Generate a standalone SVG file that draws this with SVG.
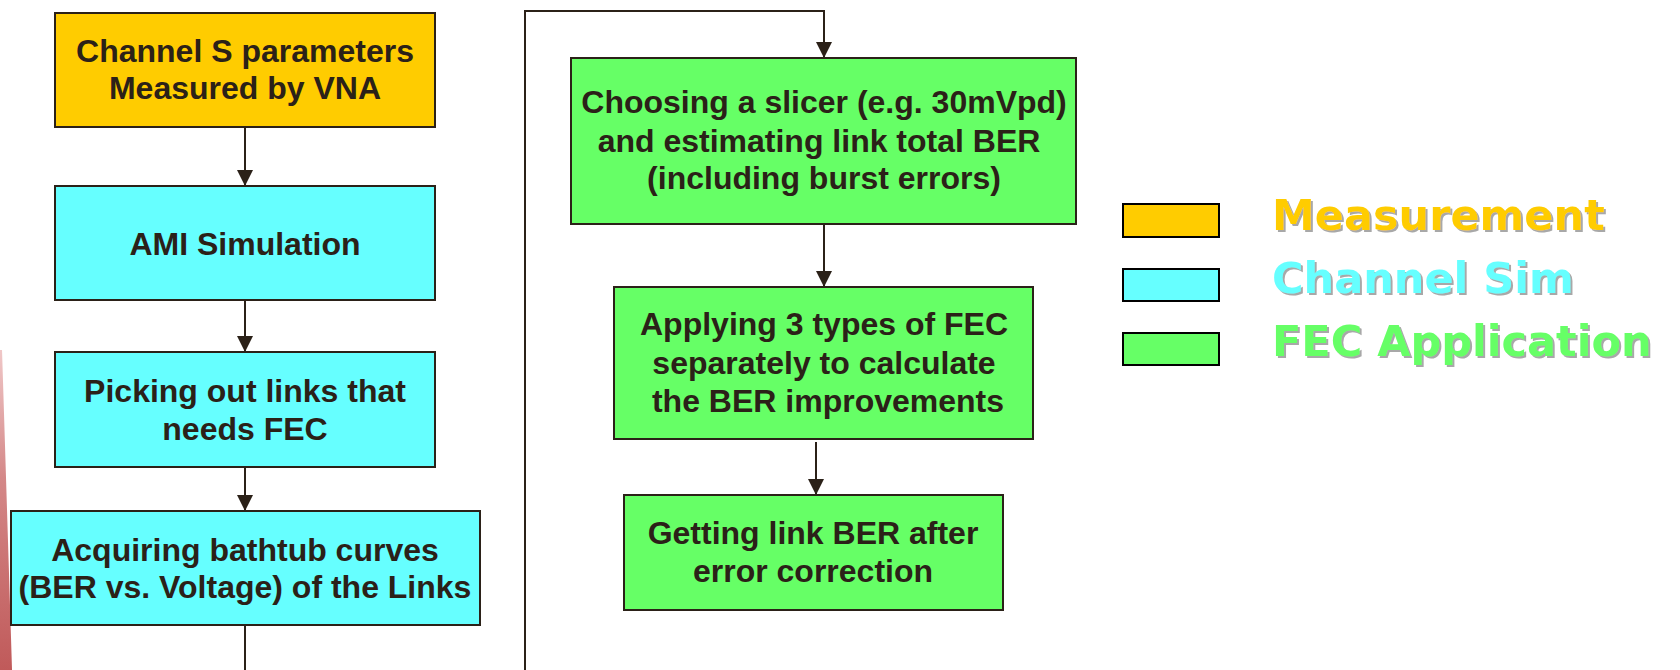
<svg xmlns="http://www.w3.org/2000/svg" width="1680" height="670" viewBox="0 0 1680 670">
  <defs>
    <style>
      .box { stroke: #2b2118; stroke-width: 2; }
      .meas { fill: #ffcc00; }
      .sim { fill: #66ffff; }
      .fec { fill: #66ff66; }
      .lbl { font-family: "Liberation Sans", Arial, sans-serif; font-weight: bold; font-size: 32px; fill: #2b2118; text-anchor: middle; }
      .wire { fill: none; stroke: #2b2118; stroke-width: 2; }
      .key { stroke: #000; stroke-width: 2; }
      .keytext { font-family: "DejaVu Sans", Verdana, sans-serif; font-weight: bold; font-size: 43px; filter: url(#shade); }
    </style>
    <marker id="arrow" viewBox="0 0 16 16" refX="16" refY="8" markerWidth="16" markerHeight="16" markerUnits="userSpaceOnUse" orient="auto">
      <path d="M0,0 L16,8 L0,16 Z" fill="#2b2118"/>
    </marker>
    <filter id="shade" x="-5%" y="-20%" width="115%" height="150%">
      <feDropShadow dx="2" dy="2" stdDeviation="0.4" flood-color="#a8a8a8" flood-opacity="1"/>
    </filter>
    <linearGradient id="edge" x1="0" y1="0" x2="0" y2="1">
      <stop offset="0" stop-color="#f0c8c8"/>
      <stop offset="0.4" stop-color="#d48888"/>
      <stop offset="1" stop-color="#c05a5a"/>
    </linearGradient>
  </defs>

  <!-- decorative edge stripe -->
  <polygon points="0,350 2,350 12,670 0,670" fill="url(#edge)"/>

  <!-- connectors -->
  <g id="connectors">
    <line class="wire" x1="245" y1="127" x2="245" y2="186" marker-end="url(#arrow)"/>
    <line class="wire" x1="245" y1="300" x2="245" y2="352" marker-end="url(#arrow)"/>
    <line class="wire" x1="245" y1="467" x2="245" y2="511" marker-end="url(#arrow)"/>
    <line class="wire" x1="245" y1="625" x2="245" y2="672"/>
    <path class="wire" d="M525,672 L525,11 L824,11 L824,58" marker-end="url(#arrow)"/>
    <line class="wire" x1="824" y1="224" x2="824" y2="287" marker-end="url(#arrow)"/>
    <line class="wire" x1="816" y1="442" x2="816" y2="495" marker-end="url(#arrow)"/>
  </g>

  <!-- flow steps -->
  <g id="step-vna">
    <rect class="box meas" x="55" y="13" width="380" height="114"/>
    <text class="lbl" x="245" y="62">Channel S parameters</text>
    <text class="lbl" x="245" y="99">Measured by VNA</text>
  </g>
  <g id="step-ami">
    <rect class="box sim" x="55" y="186" width="380" height="114"/>
    <text class="lbl" x="245" y="255">AMI Simulation</text>
  </g>
  <g id="step-pick">
    <rect class="box sim" x="55" y="352" width="380" height="115"/>
    <text class="lbl" x="245" y="402">Picking out links that</text>
    <text class="lbl" x="245" y="440">needs FEC</text>
  </g>
  <g id="step-bathtub">
    <rect class="box sim" x="11" y="511" width="469" height="114"/>
    <text class="lbl" x="245" y="561">Acquiring bathtub curves</text>
    <text class="lbl" x="245" y="598">(BER vs. Voltage) of the Links</text>
  </g>
  <g id="step-slicer">
    <rect class="box fec" x="571" y="58" width="505" height="166"/>
    <text class="lbl" x="824" y="113">Choosing a slicer (e.g. 30mVpd)</text>
    <text class="lbl" x="819" y="152">and estimating link total BER</text>
    <text class="lbl" x="824" y="189">(including burst errors)</text>
  </g>
  <g id="step-apply">
    <rect class="box fec" x="614" y="287" width="419" height="152"/>
    <text class="lbl" x="824" y="335">Applying 3 types of FEC</text>
    <text class="lbl" x="824" y="374">separately to calculate</text>
    <text class="lbl" x="828" y="412">the BER improvements</text>
  </g>
  <g id="step-result">
    <rect class="box fec" x="624" y="495" width="379" height="115"/>
    <text class="lbl" x="813" y="544">Getting link BER after</text>
    <text class="lbl" x="813" y="582">error correction</text>
  </g>

  <!-- legend -->
  <g id="legend-measurement">
    <rect class="key meas" x="1123" y="204" width="96" height="33"/>
    <text class="keytext" x="1272" y="230" fill="#ffcc00">Measurement</text>
  </g>
  <g id="legend-channel-sim">
    <rect class="key sim" x="1123" y="269" width="96" height="32"/>
    <text class="keytext" x="1272" y="293" fill="#66ffff">Channel Sim</text>
  </g>
  <g id="legend-fec">
    <rect class="key fec" x="1123" y="333" width="96" height="32"/>
    <text class="keytext" x="1272" y="356" fill="#66ff66">FEC Application</text>
  </g>
</svg>
